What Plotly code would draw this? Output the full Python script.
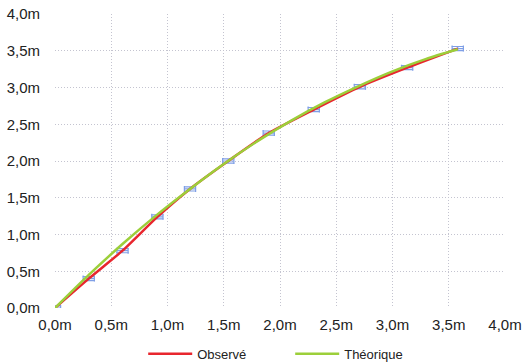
import plotly.graph_objects as go

# Observed positions (m)
obs_x = [0.0, 0.30, 0.60, 0.91, 1.20, 1.54, 1.90, 2.30, 2.71, 3.13, 3.58]
obs_y = [0.0, 0.40, 0.78, 1.24, 1.62, 2.00, 2.38, 2.70, 3.01, 3.27, 3.53]
err_x = [0.05] * len(obs_x)
err_y = [0.028] * len(obs_x)

# Theoretical curve (m)
th_x = [0.0, 0.3, 0.6, 0.9, 1.2, 1.5, 1.8, 2.1, 2.4, 2.7, 3.0, 3.3, 3.58]
th_y = [0.0, 0.45, 0.87, 1.26, 1.62, 1.96, 2.27, 2.55, 2.80, 3.02, 3.22, 3.39, 3.52]

tick_vals = [0, 0.5, 1, 1.5, 2, 2.5, 3, 3.5, 4]
tick_text = ["0,0m", "0,5m", "1,0m", "1,5m", "2,0m", "2,5m", "3,0m", "3,5m", "4,0m"]

FONT = "Liberation Sans, Arial, sans-serif"
RED = "#e8262e"
GREEN = "#9ccf3a"
BLUE = "#7f9fe6"

fig = go.Figure()
fig.add_trace(go.Scatter(
    x=obs_x, y=obs_y, mode="markers",
    marker=dict(size=1, color=BLUE, opacity=0),
    error_x=dict(type="data", array=err_x, color=BLUE, thickness=1.2, width=3),
    error_y=dict(type="data", array=err_y, color=BLUE, thickness=1.2, width=6),
    showlegend=False, hoverinfo="skip",
))
fig.add_trace(go.Scatter(
    x=obs_x, y=obs_y, mode="lines", name="Observé",
    line=dict(color=RED, width=2.5, shape="spline", smoothing=0.6),
))
fig.add_trace(go.Scatter(
    x=th_x, y=th_y, mode="lines", name="Théorique",
    line=dict(color=GREEN, width=2.5, shape="spline", smoothing=0.6),
))

axis_common = dict(
    range=[0, 4], tickvals=tick_vals, ticktext=tick_text,
    showgrid=True, gridcolor="#c4c4d0", griddash="1px,2px", gridwidth=1,
    zeroline=False, showline=False, ticks="", automargin=False,
    tickfont=dict(family=FONT, size=15, color="#222222"),
    fixedrange=True,
)
fig.update_xaxes(**axis_common, ticklabelstandoff=6)
fig.update_yaxes(**axis_common, ticklabelstandoff=14)

fig.update_layout(
    width=523, height=362,
    margin=dict(l=55, r=18, t=14, b=54, autoexpand=False),
    paper_bgcolor="white", plot_bgcolor="white",
    font=dict(family=FONT, size=13, color="#222222"),
    legend=dict(
        orientation="h", x=0.196, xanchor="left", y=-0.105, yanchor="top",
        font=dict(family=FONT, size=13, color="#222222"),
        entrywidth=88, entrywidthmode="pixels", itemwidth=44,
        bgcolor="rgba(0,0,0,0)",
    ),
)

fig.write_html(
    "out.html",
    config={"displayModeBar": False, "responsive": False},
    post_script="document.body.style.margin='0';document.body.style.overflow='hidden';",
)
